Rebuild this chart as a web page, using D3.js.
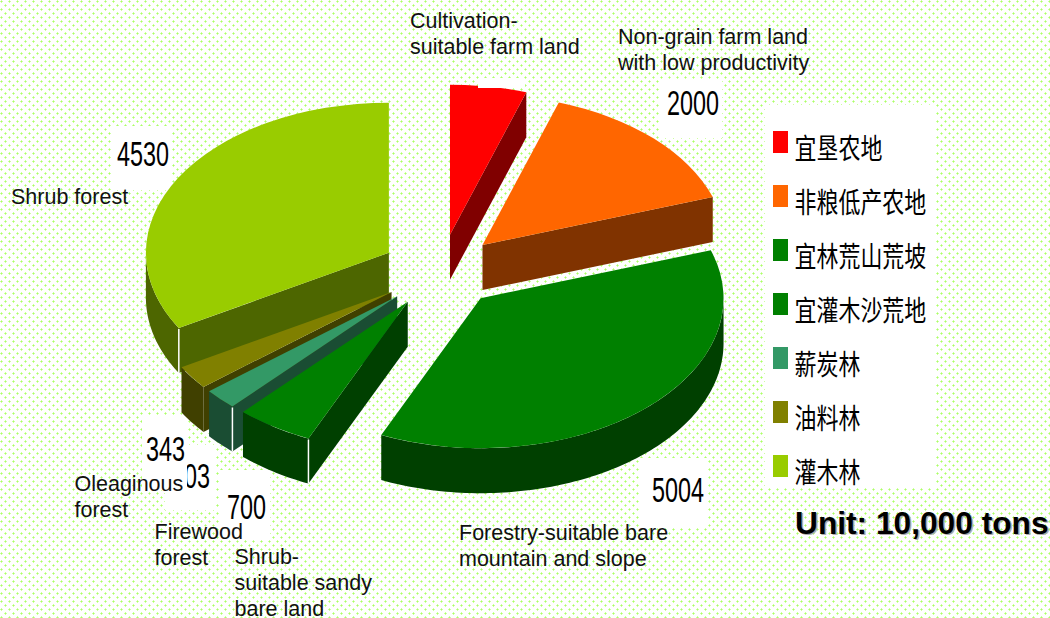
<!DOCTYPE html>
<html><head><meta charset="utf-8">
<style>html,body{margin:0;padding:0;background:#fff;overflow:hidden}svg{display:block}
.lab{font:21.5px "Liberation Sans",Arial,sans-serif;fill:#111}
.val{font:36px "Liberation Sans",Arial,sans-serif;fill:#000}
.leg{font:28px "Noto Sans CJK SC",sans-serif;fill:#000}
.unit{font:bold 31.7px "Liberation Sans",Arial,sans-serif;fill:#000}
</style>
<script src="https://cdn.jsdelivr.net/npm/d3@7/dist/d3.min.js"></script></head>
<body><script>
// ---- data ----
const categories = ["宜垦农地","非粮低产农地","宜林荒山荒坡","宜灌木沙荒地","薪炭林","油料林","灌木林"];
const values = [690, 2000, 5004, 700, 303, 343, 4530];
const valueLabels = ["", "2000", "5004", "700", "303", "343", "4530"];
const colors = ["#ff0000","#ff6600","#008000","#008000","#339966","#808000","#99cc00"];
const wallColors = ["#800000","#803300","#004000","#004000","#1a4d33","#404000","#4d6600"];
const englishLabels = [
  ["Cultivation-","suitable farm land"],
  ["Non-grain farm land","with low productivity"],
  ["Forestry-suitable bare","mountain and slope"],
  ["Shrub-","suitable sandy","bare land"],
  ["Firewood","forest"],
  ["Oleaginous","forest"],
  ["Shrub forest"]
];
const unitLabel = "Unit: 10,000 tons";

// ---- layout ----
const W=1050,H=618, cx=440.5, cy=271, rx=243, ry=150, depth=45, explode=0.245;
const labelAt=[[410,27.5],[618,43.5],[459,539.5],[234.5,563.5],[154.5,538.5],[74.5,490.5],[11,203.5]];
const valueAt=[null,[667,115],[652,502],[227,519],[171,488],[146,461],[117,166]];
const valueBox=[null,[660,80,62,58],[640,458,68,69],[220,470,50,70],[165,445,50,65],[142,415,45,75],[112,126,60,64]];
const drawOrder=[0,1,6,5,4,3,2];

const svg=d3.select("body").append("svg").attr("width",W).attr("height",H);
const defs=svg.append("defs");
const pat=defs.append("pattern").attr("id","dots").attr("width",8).attr("height",8).attr("patternUnits","userSpaceOnUse");
[[1,1],[5,5]].forEach(([x,y])=>{
  pat.append("rect").attr("x",x).attr("y",y-1).attr("width",1).attr("height",3).attr("fill","#ccffa0");
  pat.append("rect").attr("x",x-1).attr("y",y).attr("width",3).attr("height",1).attr("fill","#ccffa0");
  pat.append("rect").attr("x",x).attr("y",y).attr("width",1).attr("height",1).attr("fill","#aaff66");
});
svg.append("rect").attr("width",W).attr("height",H).attr("fill","#fff");
svg.append("rect").attr("width",W).attr("height",H).attr("fill","url(#dots)");

// value boxes and labels (later boxes cover earlier text, as in the source)
const vg=svg.append("g");
[4,5,3,6,1,2].forEach(i=>{
  const b=valueBox[i],p=valueAt[i];
  vg.append("rect").attr("x",b[0]).attr("y",b[1]).attr("width",b[2]).attr("height",b[3]).attr("fill","#fff");
  vg.append("text").attr("class","val").attr("transform",`translate(${p[0]},${p[1]}) scale(0.65,1)`).text(valueLabels[i]);
});

// pie
const arcs=d3.pie().sort(null).value(d=>d).startAngle(0).endAngle(2*Math.PI)(values);
const sx=d3.scaleLinear().domain([-1,1]).range([-rx,rx]);
const sy=d3.scaleLinear().domain([-1,1]).range([-ry,ry]);
const topArc=d3.arc().innerRadius(0).outerRadius(rx);
const line=d3.line().x(d=>d[0]).y(d=>d[1]);
const pg=svg.append("g");
const PI=Math.PI;
drawOrder.forEach(i=>{
  const a=arcs[i], mid=(a.startAngle+a.endAngle)/2;
  const ox=cx+sx(explode*Math.sin(mid)), oy=cy+sy(-explode*Math.cos(mid));
  const g=pg.append("g").attr("transform",`translate(${ox},${oy})`);
  const pt=t=>[sx(Math.sin(t)),sy(-Math.cos(t))];
  const face=t=>{const p=pt(t);return line([[0,0],p,[p[0],p[1]+depth],[0,depth]])+"Z";};
  if(a.endAngle<PI) g.append("path").attr("d",face(a.endAngle)).attr("fill",wallColors[i]);
  if(a.startAngle>PI) g.append("path").attr("d",face(a.startAngle)).attr("fill",wallColors[i]);
  const a0=Math.max(a.startAngle,PI/2), a1=Math.min(a.endAngle,3*PI/2);
  if(a1>a0){
    const n=Math.max(2,Math.ceil((a1-a0)/0.02));
    const ts=d3.range(n+1).map(k=>a0+(a1-a0)*k/n);
    const up=ts.map(pt), dn=ts.map(pt).map(p=>[p[0],p[1]+depth]).reverse();
    g.append("path").attr("d",line(up.concat(dn))+"Z").attr("fill",wallColors[i]);
  }
  g.append("path").attr("transform",`scale(1,${ry/rx})`).attr("d",topArc(a)).attr("fill",colors[i]);
  if(a.startAngle>PI && i!==5){
    const p=pt(a.startAngle);
    g.append("line").attr("x1",p[0]).attr("x2",p[0]).attr("y1",p[1]+1).attr("y2",p[1]+depth).attr("stroke","#fff").attr("stroke-width",1.5);
  }
});
// white patch cutting the top of the red slice
svg.append("rect").attr("x",478).attr("y",78).attr("width",47).attr("height",10).attr("fill","#fff");

// english labels
englishLabels.forEach((lines,i)=>{
  const t=svg.append("text").attr("class","lab");
  lines.forEach((s,k)=>t.append("tspan").attr("x",labelAt[i][0]).attr("y",labelAt[i][1]+k*26).text(s));
});

// legend
svg.append("rect").attr("x",765).attr("y",105).attr("width",170).attr("height",382).attr("fill","#fff");
const ly=d3.scalePoint().domain(categories).range([131,455]);
categories.forEach((c,i)=>{
  svg.append("rect").attr("x",773).attr("y",ly(c)).attr("width",15).attr("height",22).attr("fill",colors[i]);
  svg.append("text").attr("class","leg").attr("transform",`translate(794.5,${ly(c)+28}) scale(0.785,1)`).text(c);
});
svg.append("text").attr("class","unit").attr("x",796.5).attr("y",535).style("fill","#aaa").text(unitLabel);
svg.append("text").attr("class","unit").attr("x",795).attr("y",533.5).text(unitLabel);
</script></body></html>
